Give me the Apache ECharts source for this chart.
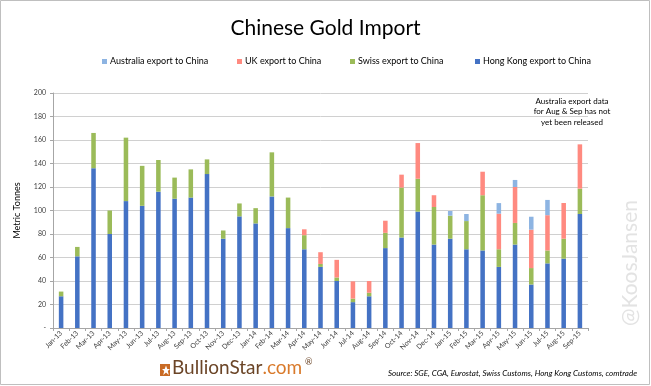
<!DOCTYPE html>
<html>
<head>
<meta charset="utf-8">
<script src="https://cdn.jsdelivr.net/npm/echarts@6/dist/echarts.min.js"></script>
<style>html,body{margin:0;padding:0;background:#fff}#c{width:651px;height:386px}</style>
</head>
<body>
<div id="c"></div>
<script>
const categories = ['Jan-13','Feb-13','Mar-13','Apr-13','May-13','Jun-13','Jul-13','Aug-13','Sep-13','Oct-13','Nov-13','Dec-13',
  'Jan-14','Feb-14','Mar-14','Apr-14','May-14','Jun-14','Jul-14','Aug-14','Sep-14','Oct-14','Nov-14','Dec-14',
  'Jan-15','Feb-15','Mar-15','Apr-15','May-15','Jun-15','Jul-15','Aug-15','Sep-15'];
const hongKong = [27,61,136,80,108,104,116,110,111,131,76,95,89,112,85,67,52,40,22,27,68,77,99,71,76,67,66,52,71,37,55,59,97];
const swiss = [4,8,30,20,54,34,27,18,24,12.5,7,11,13,37.5,26,12,2.5,3,3,3,13,42.5,28,32,19.6,24,47,15,18.4,14,11,17,21.6];
const uk = [0,0,0,0,0,0,0,0,0,0,0,0,0,0,0,5,10,15,14.7,10,10.3,11,30.4,10,0,0,20,30.3,30.6,32.7,30,30.4,37.7];
const australia = [0,0,0,0,0,0,0,0,0,0,0,0,0,0,0,0,0,0,0,0,0,0,0,0,4,6,0,9,6,11,13,0,0];
const yTicks = [0,20,40,60,80,100,120,140,160,180,200];

const FONT = 'Lato, "Open Sans", sans-serif';
const chart = echarts.init(document.getElementById('c'), null, {renderer: 'canvas'});
const names = ['Australia export to China','UK export to China','Swiss export to China','Hong Kong export to China'];
const colors = ['#8db4e2','#ff8a80','#9bbb59','#4472c4'];
const legendLeft = [97, 232, 345, 470];
function mk(name, data, color) {
  return {name, type: 'bar', stack: 'total', data: data.map(v => v === 0 ? null : v),
    barWidth: '28%', itemStyle: {color}, emphasis: {disabled: true}};
}
chart.setOption({
  animation: false,
  backgroundColor: '#fff',
  title: {text: 'Chinese Gold Import', left: 'center', top: 13,
    textStyle: {fontFamily: FONT, fontSize: 21, fontWeight: 'normal', color: '#000'}},
  legend: names.map((n, i) => ({data: [{name: n, icon: 'rect'}], left: legendLeft[i], top: 52,
    itemWidth: 5, itemHeight: 5, itemGap: 3, selectedMode: false,
    textStyle: {fontFamily: FONT, fontSize: 9, color: '#000', padding: [0,0,0,-2]}})),
  grid: {left: 53, right: 63, top: 93, bottom: 58, containLabel: false},
  xAxis: {type: 'category', data: categories,
    axisLine: {lineStyle: {color: '#a6a6a6'}},
    axisTick: {show: true, interval: 0, length: 3, lineStyle: {color: '#a6a6a6'}},
    axisLabel: {interval: 0, rotate: 45, fontSize: 7, fontFamily: FONT, color: '#404040', margin: 4}},
  yAxis: {type: 'value', min: yTicks[0], max: yTicks[yTicks.length-1], interval: 20,
    name: 'Metric Tonnes', nameLocation: 'middle', nameGap: 31, nameRotate: 90,
    nameTextStyle: {fontFamily: FONT, fontSize: 9, color: '#000'},
    axisLine: {show: true, lineStyle: {color: '#a6a6a6'}},
    axisTick: {show: true, length: 3, lineStyle: {color: '#a6a6a6'}},
    splitLine: {lineStyle: {color: '#d0d0d0', width: 1}},
    axisLabel: {fontSize: 7, fontFamily: FONT, color: '#404040', margin: 7,
      formatter: v => v === 0 ? '-' : String(v)}},
  series: [
    mk(names[3], hongKong, colors[3]),
    mk(names[2], swiss, colors[2]),
    mk(names[1], uk, colors[1]),
    mk(names[0], australia, colors[0])
  ],
  graphic: [
    {type: 'rect', shape: {x: 0.5, y: 0.5, width: 649, height: 384}, style: {fill: null, stroke: '#bfbfbf', lineWidth: 1}, silent: true},
    {type: 'text', x: 572, y: 96, style: {text: 'Australia export data\nfor Aug & Sep has not\nyet been released', align: 'center',
      fontFamily: FONT, fontSize: 8, lineHeight: 10.5, fill: '#000'}},
    {type: 'text', x: 630, y: 263, rotation: Math.PI/2, style: {text: '@KoosJansen', align: 'center', verticalAlign: 'middle',
      fontFamily: FONT, fontSize: 21, fill: '#e3e3e3'}},
    {type: 'rect', shape: {x: 160, y: 364, width: 10, height: 12}, style: {fill: '#c96b25'}},
    {type: 'polygon', shape: {points: [[166,365.5],[167.3,369],[170,369],[167.8,371],[168.8,375],[166,372.6],[163.2,375],[164.2,371],[162,369],[164.7,369]]}, style: {fill: '#fff'}},
    {type: 'text', x: 172, y: 377, style: {text: '{a|BullionStar}{b|.com}', textVerticalAlign: 'bottom',
      rich: {a: {fontFamily: FONT, fontSize: 19, fill: '#6b4527', color: '#6b4527'}, b: {fontFamily: FONT, fontSize: 19, color: '#d97a2b', fill: '#d97a2b'}},
      verticalAlign: 'bottom'}},
    {type: 'text', x: 305, y: 358, style: {text: '®', fontFamily: FONT, fontSize: 9, fill: '#6b4527'}},
    {type: 'text', x: 637, y: 373, style: {text: 'Source: SGE, CGA, Eurostat, Swiss Customs, Hong Kong Customs, comtrade', align: 'right', verticalAlign: 'middle',
      fontFamily: FONT, fontSize: 8, fontStyle: 'italic', fill: '#000'}}
  ]
});
</script>
</body>
</html>
